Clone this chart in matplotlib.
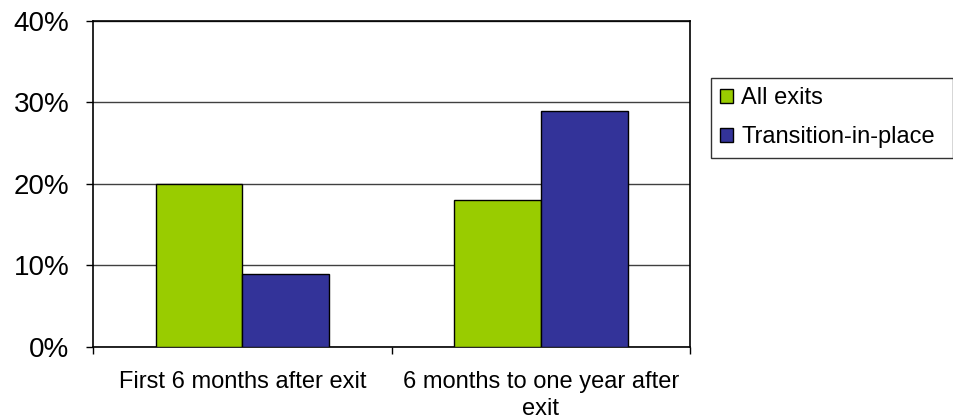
import matplotlib.pyplot as plt
from matplotlib.ticker import FuncFormatter
import numpy as np

plt.rcParams["font.family"] = ["Liberation Sans", "DejaVu Sans"]

periods = ["First 6 months after exit", "6 months to one year after\nexit"]
series_names = ["All exits", "Transition-in-place"]
all_exits = [20, 18]
transition_in_place = [9, 29]
colors = ["#99CC00", "#333399"]

fig = plt.figure(figsize=(9.54, 4.2), dpi=100)
ax = fig.add_axes([0.0975, 0.174, 0.626, 0.776])

x = np.arange(len(periods)) + 0.5
w = 0.29
ax.bar(x - w / 2, all_exits, w, color=colors[0], edgecolor="black", linewidth=1,
       label=series_names[0], zorder=3)
ax.bar(x + w / 2, transition_in_place, w, color=colors[1], edgecolor="black", linewidth=1,
       label=series_names[1], zorder=3)

ax.set_xlim(0, len(periods))
ax.set_ylim(0, 40)
ax.set_yticks([0, 10, 20, 30, 40])
ax.yaxis.set_major_formatter(FuncFormatter(lambda v, p: f"{v:.0f}%"))
ax.yaxis.grid(True, color="#404040", linewidth=1, zorder=0)

# tick marks at the category boundaries, labels centred under each group
ax.set_xticks(np.arange(len(periods) + 1))
ax.set_xticklabels([])
ax.set_xticks(x, minor=True)
ax.set_xticklabels(periods, minor=True, fontsize=17, linespacing=1.3)
ax.tick_params(axis="x", which="major", direction="out", length=5, width=1)
ax.tick_params(axis="x", which="minor", length=0, pad=17)
ax.tick_params(axis="y", direction="out", length=5, width=1, labelsize=20, pad=12)

for s in ax.spines.values():
    s.set_linewidth(1.2)
    s.set_color("black")

leg = fig.legend(loc="upper left",
                 bbox_to_anchor=(711 / 954, 1 - 153 / 420, 242 / 954, 75 / 420),
                 mode="expand", fontsize=17,
                 frameon=True, fancybox=False, edgecolor="black", borderpad=0.4,
                 handlelength=0.55, handleheight=0.55, handletextpad=0.34,
                 labelspacing=0.72, borderaxespad=0)
leg.get_frame().set_linewidth(1)

fig.savefig("out.png", dpi=100)
